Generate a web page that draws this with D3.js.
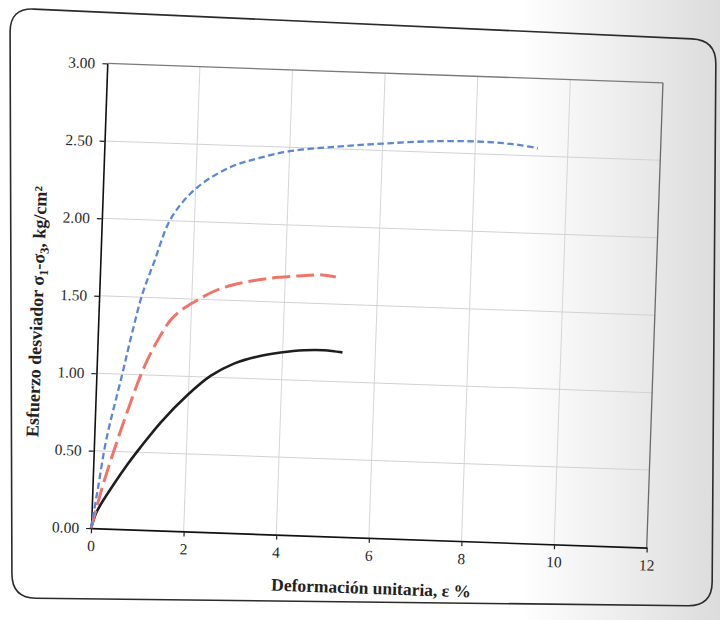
<!DOCTYPE html>
<html>
<head>
<meta charset="utf-8">
<script src="https://cdn.jsdelivr.net/npm/d3@7"></script>
<style>
  html, body { margin: 0; padding: 0; background: #fff; }
  svg { display: block; }
</style>
</head>
<body>
<div id="chart"></div>
<script>
// ---- data ----
const xTicks = [0, 2, 4, 6, 8, 10, 12];
const xTickLabels = ["0", "2", "4", "6", "8", "10", "12"];
const yTicks = [0, 0.5, 1.0, 1.5, 2.0, 2.5, 3.0];
const yTickLabels = ["0.00", "0.50", "1.00", "1.50", "2.00", "2.50", "3.00"];

const blueX = [0, 0.11, 0.26, 0.55, 0.74, 0.93, 1.16, 1.5, 2.03, 2.74, 3.3, 4.0, 5.0, 6.0, 7.0, 8.0, 8.6, 9.0, 9.35];
const blueY = [0, 0.24, 0.57, 0.99, 1.27, 1.52, 1.73, 2.02, 2.22, 2.36, 2.42, 2.475, 2.515, 2.545, 2.57, 2.58, 2.575, 2.565, 2.55];

const redX = [0, 0.1, 0.25, 0.5, 0.78, 1.01, 1.25, 1.56, 1.8, 2.1, 2.44, 2.87, 3.37, 3.87, 4.37, 4.8, 5.09];
const redY = [0, 0.13, 0.31, 0.57, 0.84, 1.04, 1.20, 1.36, 1.43, 1.49, 1.55, 1.60, 1.635, 1.66, 1.675, 1.685, 1.675];

const blackX = [0, 0.1, 0.2, 0.46, 0.74, 1.0, 1.43, 1.98, 2.47, 2.97, 3.47, 3.96, 4.46, 4.89, 5.29];
const blackY = [0, 0.1, 0.16, 0.29, 0.42, 0.53, 0.70, 0.88, 1.01, 1.095, 1.145, 1.175, 1.195, 1.20, 1.19];

const xLabel = "Deformación unitaria, ε %";

// ---- layout ----
const W = 720, H = 620;
const plot = { left: 99, top: 73, width: 556, height: 465 };
const tilt = 2; // scanned page is slightly rotated
const cx = plot.left + plot.width / 2, cy = plot.top + plot.height / 2;

const svg = d3.select("#chart").append("svg").attr("width", W).attr("height", H);

// background with scanner shading on the right
const defs = svg.append("defs");
const grad = defs.append("linearGradient").attr("id", "shade").attr("x1", "0").attr("x2", "1").attr("y1", "0").attr("y2", "0");
grad.append("stop").attr("offset", "0%").attr("stop-color", "#ffffff");
grad.append("stop").attr("offset", "72%").attr("stop-color", "#ffffff");
grad.append("stop").attr("offset", "84%").attr("stop-color", "#f0f0f0");
grad.append("stop").attr("offset", "100%").attr("stop-color", "#dcdcdc");
svg.append("rect").attr("width", W).attr("height", H).attr("fill", "url(#shade)");

// outer rounded frame (slightly warped like the scan)
function roundedPoly(pts, r) {
  const n = pts.length;
  let d = "";
  for (let i = 0; i < n; i++) {
    const p0 = pts[(i - 1 + n) % n], p1 = pts[i], p2 = pts[(i + 1) % n];
    const v1 = [p0[0] - p1[0], p0[1] - p1[1]], v2 = [p2[0] - p1[0], p2[1] - p1[1]];
    const l1 = Math.hypot(v1[0], v1[1]), l2 = Math.hypot(v2[0], v2[1]);
    const a = [p1[0] + v1[0] / l1 * r, p1[1] + v1[1] / l1 * r];
    const b = [p1[0] + v2[0] / l2 * r, p1[1] + v2[1] / l2 * r];
    d += (i === 0 ? "M" : "L") + a[0] + "," + a[1] + "Q" + p1[0] + "," + p1[1] + " " + b[0] + "," + b[1];
  }
  return d + "Z";
}
svg.append("path")
  .attr("d", roundedPoly([[10, 8], [716, 40], [712, 606], [12, 598]], 24))
  .attr("fill", "none").attr("stroke", "#2b2b2b").attr("stroke-width", 1.6);

const g = svg.append("g").attr("transform", `rotate(${tilt},${cx},${cy})`);
const gp = g.append("g").attr("transform", `translate(${plot.left},${plot.top})`);

const x = d3.scaleLinear().domain([0, 12]).range([0, plot.width]);
const y = d3.scaleLinear().domain([0, 3]).range([plot.height, 0]);

// gridlines
gp.append("g").selectAll("line.vg").data(xTicks.filter(v => v > 0 && v < 12)).join("line")
  .attr("x1", d => x(d)).attr("x2", d => x(d)).attr("y1", 0).attr("y2", plot.height)
  .attr("stroke", "#d6d6d6").attr("stroke-width", 1);
gp.append("g").selectAll("line.hg").data(yTicks.filter(v => v > 0 && v < 3)).join("line")
  .attr("x1", 0).attr("x2", plot.width).attr("y1", d => y(d)).attr("y2", d => y(d))
  .attr("stroke", "#d2d2d2").attr("stroke-width", 1);

// top and right border
gp.append("line").attr("x1", 0).attr("x2", plot.width).attr("y1", y(3)).attr("y2", y(3))
  .attr("stroke", "#7a7a7a").attr("stroke-width", 1.3);
gp.append("line").attr("x1", x(12)).attr("x2", x(12)).attr("y1", 0).attr("y2", plot.height)
  .attr("stroke", "#6a6a6a").attr("stroke-width", 1.3);

// axes
const fontTick = "'Liberation Serif', 'DejaVu Serif', serif";
const xAxis = d3.axisBottom(x).tickValues(xTicks).tickFormat((d, i) => xTickLabels[i])
  .tickSize(5).tickSizeOuter(0).tickPadding(7);
const yAxis = d3.axisLeft(y).tickValues(yTicks).tickFormat((d, i) => yTickLabels[i])
  .tickSize(5).tickSizeOuter(0).tickPadding(7);

const gx = gp.append("g").attr("transform", `translate(0,${plot.height})`).call(xAxis);
const gy = gp.append("g").call(yAxis);
[gx, gy].forEach(a => {
  a.select(".domain").attr("stroke", "#111").attr("stroke-width", 1.6);
  a.selectAll(".tick line").attr("stroke", "#222").attr("stroke-width", 1.2);
  a.selectAll(".tick text").attr("fill", "#2a2a2a").style("font-family", fontTick).style("font-size", "15.5px");
});

// series
const line = d3.line().x(d => x(d[0])).y(d => y(d[1])).curve(d3.curveCatmullRom.alpha(0.5));
const series = [
  { xs: blackX, ys: blackY, color: "#1e1e1e", width: 2.6, dash: null },
  { xs: redX, ys: redY, color: "#f07468", width: 3, dash: "18,6" },
  { xs: blueX, ys: blueY, color: "#5b86d9", width: 2.3, dash: "6.5,3.5" }
];
gp.append("g").selectAll("path.s").data(series).join("path")
  .attr("d", s => line(s.xs.map((v, i) => [v, s.ys[i]])))
  .attr("fill", "none")
  .attr("stroke", s => s.color)
  .attr("stroke-width", s => s.width)
  .attr("stroke-dasharray", s => s.dash)
  .attr("stroke-linecap", "butt")
  .attr("stroke-linejoin", "round");

// axis titles
const fontTitle = "'Liberation Serif', 'DejaVu Serif', serif";
g.append("text")
  .attr("x", plot.left + plot.width / 2 + 4).attr("y", 594)
  .attr("text-anchor", "middle")
  .style("font-family", fontTitle).style("font-size", "17.5px").style("font-weight", "bold")
  .attr("fill", "#222")
  .text(xLabel);

const yt = g.append("text")
  .attr("transform", `translate(43,${cy + 18}) rotate(-90)`)
  .attr("text-anchor", "middle")
  .style("font-family", fontTitle).style("font-size", "18px").style("font-weight", "bold")
  .attr("fill", "#222");
yt.append("tspan").text("Esfuerzo desviador σ");
yt.append("tspan").attr("dy", 4).style("font-size", "12.5px").text("1");
yt.append("tspan").attr("dy", -4).text("-σ");
yt.append("tspan").attr("dy", 4).style("font-size", "12.5px").text("3");
yt.append("tspan").attr("dy", -4).text(", kg/cm²");
</script>
</body>
</html>
